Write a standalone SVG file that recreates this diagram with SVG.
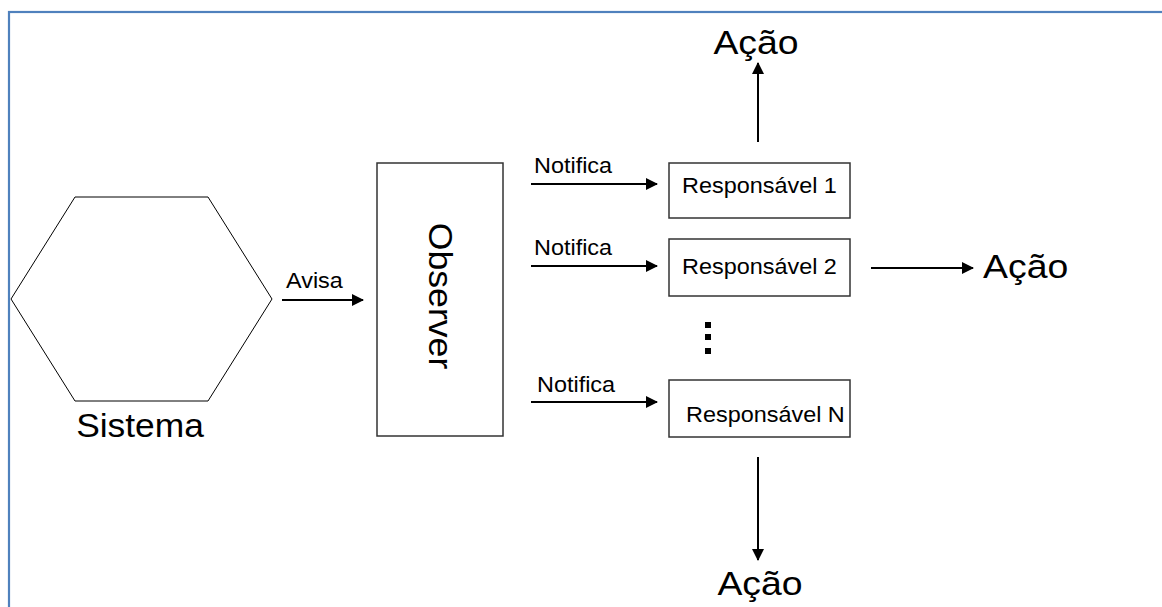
<svg xmlns="http://www.w3.org/2000/svg" width="1162" height="607" viewBox="0 0 1162 607">
<style>
text{font-family:"Liberation Sans",Arial,sans-serif;fill:#000}
.box{fill:#fff;stroke:#333;stroke-width:1.5}
.sm{font-size:21.5px}
.big{font-size:34px}
.conn{stroke:#000;stroke-width:2;fill:none;marker-end:url(#ah)}
</style>
<defs>
<marker id="ah" viewBox="0 0 12 12" refX="11" refY="6" markerWidth="12" markerHeight="12" markerUnits="userSpaceOnUse" orient="auto">
<path d="M0,0 L12,6 L0,12 Z" fill="#000"/>
</marker>
</defs>
<rect x="0" y="0" width="1162" height="607" fill="#fff"/>
<rect x="9" y="12" width="1200" height="700" fill="none" stroke="#4F81BD" stroke-width="2.2"/>
<g id="sistema">
<polygon points="75,197 208,197 272,299 208,401 75,401 11,299" fill="#fff" stroke="#000" stroke-width="1"/>
<text transform="translate(140,437) scale(1.04,1)" class="big" text-anchor="middle">Sistema</text>
</g>
<g id="observer">
<rect x="377" y="163" width="126" height="273" class="box"/>
<text transform="translate(429,296) rotate(90) scale(1.08,1)" font-size="33" text-anchor="middle">Observer</text>
</g>
<g id="resp1">
<rect x="669" y="163" width="181" height="55" class="box"/>
<text transform="translate(682,193) scale(1.09,1)" class="sm">Responsável 1</text>
</g>
<g id="resp2">
<rect x="669" y="239" width="181" height="57" class="box"/>
<text transform="translate(682,274) scale(1.09,1)" class="sm">Responsável 2</text>
</g>
<g id="dots">
<rect x="705" y="322" width="6" height="6" fill="#000"/>
<rect x="705" y="334" width="6" height="6" fill="#000"/>
<rect x="705" y="348" width="6" height="6" fill="#000"/>
</g>
<g id="respN">
<rect x="669" y="380" width="181" height="57" class="box"/>
<text transform="translate(686,422) scale(1.09,1)" class="sm">Responsável N</text>
</g>
<g id="acao-top"><text transform="translate(756,54) scale(1.1,1)" class="big" text-anchor="middle">Ação</text></g>
<g id="acao-right"><text transform="translate(983,278) scale(1.1,1)" class="big">Ação</text></g>
<g id="acao-bottom"><text transform="translate(760,595) scale(1.1,1)" class="big" text-anchor="middle">Ação</text></g>
<g id="connectors">
<line x1="282" y1="300" x2="363" y2="300" class="conn"/>
<text transform="translate(286,288) scale(1.09,1)" class="sm">Avisa</text>
<line x1="531" y1="184" x2="657" y2="184" class="conn"/>
<text transform="translate(534,173) scale(1.09,1)" class="sm">Notifica</text>
<line x1="531" y1="266" x2="657" y2="266" class="conn"/>
<text transform="translate(534,255) scale(1.09,1)" class="sm">Notifica</text>
<line x1="531" y1="402" x2="657" y2="402" class="conn"/>
<text transform="translate(537,392) scale(1.09,1)" class="sm">Notifica</text>
<line x1="758" y1="142" x2="758" y2="63" class="conn"/>
<line x1="871" y1="268" x2="973" y2="268" class="conn"/>
<line x1="758" y1="457" x2="758" y2="560" class="conn"/>
</g>
</svg>
